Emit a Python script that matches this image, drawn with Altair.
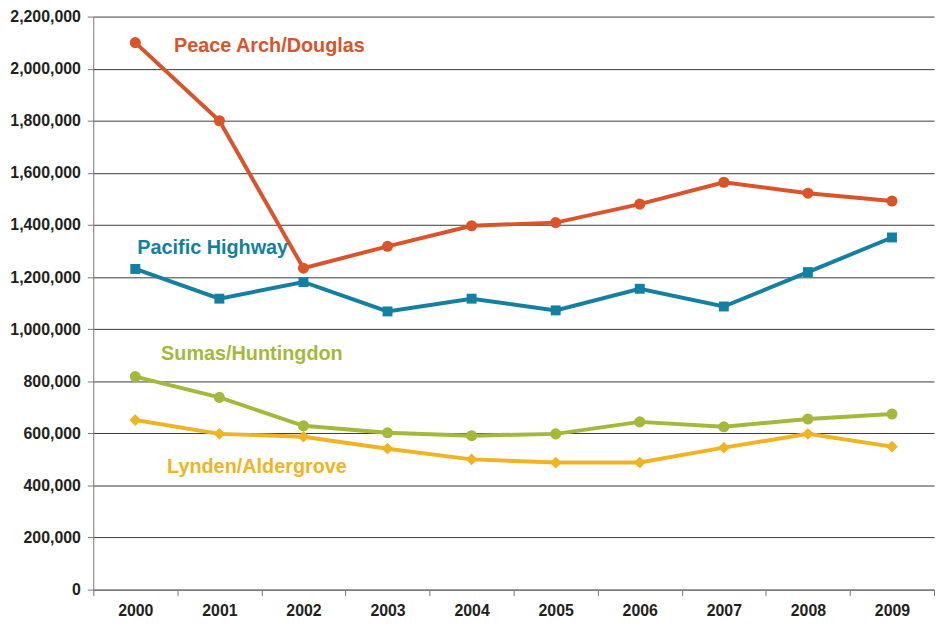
import altair as alt
import pandas as pd

years = ["2000", "2001", "2002", "2003", "2004", "2005", "2006", "2007", "2008", "2009"]
peace_arch = [2100000, 1800000, 1234000, 1318000, 1397000, 1409000, 1480000, 1564000, 1522000, 1492000]
pacific_hwy = [1231000, 1117000, 1181000, 1068000, 1117000, 1072000, 1155000, 1087000, 1219000, 1352000]
sumas = [818000, 738000, 629000, 602000, 591000, 598000, 644000, 625000, 655000, 674000]
lynden = [651000, 598000, 587000, 541000, 500000, 488000, 488000, 545000, 598000, 549000]

series_names = ["Peace Arch/Douglas", "Pacific Highway", "Sumas/Huntingdon", "Lynden/Aldergrove"]
series_vals = [peace_arch, pacific_hwy, sumas, lynden]
colors = ["#d9542b", "#137fa1", "#a4b93b", "#f0b323"]
shapes = ["circle", "square", "circle", "diamond"]
sizes = [125, 100, 125, 140]

label_year = ["2000", "2000", "2000", "2000"]
label_y = [2085000, 1310000, 905000, 470000]
label_dx = [39, 2, 26, 32]

y_ticks = list(range(0, 2200001, 200000))

rows = []
for name, vals in zip(series_names, series_vals):
    for yr, v in zip(years, vals):
        rows.append({"series": name, "year": yr, "value": v})
df = pd.DataFrame(rows)

x_enc = alt.X("year:O", sort=years, title=None,
              scale=alt.Scale(type="band", paddingInner=0, paddingOuter=0),
              axis=alt.Axis(labelAngle=0, tickBand="extent", grid=False,
                            labelFont="Liberation Sans", labelFontWeight="bold",
                            labelFontSize=16, labelColor="#231f20", labelPadding=7,
                            domainColor="#777777", tickColor="#777777", tickSize=6))
y_enc = alt.Y("value:Q", title=None,
              scale=alt.Scale(domain=[0, 2200000], nice=False),
              axis=alt.Axis(values=y_ticks, format=",d", grid=True, gridColor="#3a3a3a",
                            gridWidth=1, labelFont="Liberation Sans", labelFontWeight="bold",
                            labelFontSize=16, labelColor="#231f20", labelPadding=7,
                            domainColor="#777777", tickColor="#777777", tickSize=6))

layers = []
for name, col, shp, sz in zip(series_names, colors, shapes, sizes):
    sub = df[df["series"] == name]
    base = alt.Chart(sub).encode(x=x_enc, y=y_enc)
    layers.append(base.mark_line(color=col, strokeWidth=4))
    layers.append(base.mark_point(color=col, shape=shp, size=sz, filled=True, opacity=1))

for name, col, yr, yv, dx in zip(series_names, colors, label_year, label_y, label_dx):
    t = alt.Chart(pd.DataFrame([{"year": yr, "value": yv, "label": name}])).mark_text(
        align="left", baseline="middle", dx=dx, font="Liberation Sans",
        fontWeight="bold", fontSize=20, color=col
    ).encode(x=x_enc, y=y_enc, text="label:N")
    layers.append(t)

chart = alt.layer(*layers).properties(
    width=848, height=578,
    autosize=alt.AutoSizeParams(type="none"),
    padding={"left": 86, "top": 6, "right": 3, "bottom": 30}
).configure_view(stroke=None)

chart.save("out.html", embed_options={"renderer": "svg", "actions": False})
